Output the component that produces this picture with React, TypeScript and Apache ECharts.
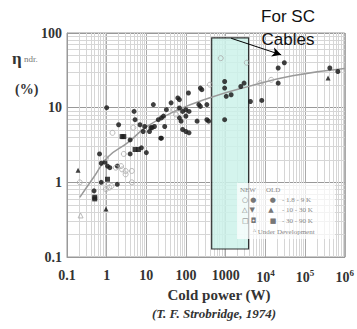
import React, { useEffect, useRef } from "react";
import * as echarts from "echarts";

// Fit curve (cold power W, efficiency %)
const fitCurve: number[][] = [
  [0.21, 0.63], [0.47, 1.17], [1.09, 2.2], [3.4, 3.4], [10.4, 5.6],
  [56, 9.1], [400, 13.6], [3430, 19], [48000, 26.7], [1000000, 33.5],
];

// Existing refrigerators (filled symbols)
const filledCircles: number[][] = [
  [1.0, 10], [4.9, 8.9], [15, 11], [5.2, 6.9], [6.9, 5.9], [9.1, 5.6], [13, 5.4], [16, 5.6],
  [2.0, 5.9], [3.9, 3.7], [8.3, 4.8], [12, 4.8], [23, 3.9], [7.5, 2.9], [3.9, 2.4],
  [10, 2.5], [0.66, 2.4], [0.73, 1.8], [1.05, 1.65], [1.85, 1.65], [0.73, 1.0],
  [1.85, 0.94], [0.48, 0.77], [0.91, 1.86], [1.2, 1.57],
  [42, 11.6], [62, 13.5], [68, 12.8], [115, 15.7], [230, 18.3], [250, 17.4], [210, 11],
  [230, 10.4], [335, 11], [32, 9.4], [20, 6.9], [24, 7.3], [27, 7.7], [68, 9.9], [82, 8.9],
  [99, 9.4], [119, 8.9], [14, 5.4], [29, 5.6], [68, 7.3], [75, 6.6], [99, 7.7], [335, 6.9],
  [370, 6.6], [190, 6.6], [82, 5.1], [99, 4.8], [119, 4.6], [24, 3.9], [940, 22.4],
  [940, 18.3], [1030, 14.2], [1370, 14.9], [2400, 19.2], [2900, 21.3], [940, 6.9],
  [4200, 12.1], [8100, 12.5], [30000, 40], [21000, 34], [21000, 21.3], [420000, 34], [670000, 30.5],
];
const filledSquares: number[][] = [
  [2.45, 4.1], [2.7, 4.1], [5.2, 2.75], [6.3, 2.75], [1.05, 1.1], [0.5, 0.63], [0.5, 0.6],
];
const filledTriangles: number[][] = [[0.96, 0.44], [0.19, 1.45], [380000, 25]];

// New / under development (open grey symbols)
const openPoints: number[][] = [
  [1.4, 4.6], [4.7, 5.4], [0.96, 2.1], [2.7, 2.4], [1.7, 1.57], [2.45, 1.49], [3.0, 1.42],
  [3.0, 1.28], [4.3, 1.42], [0.21, 1.0], [4.3, 1.0], [0.96, 0.81], [1.16, 0.85],
  [2.3, 1.65], [1.32, 0.89], [750, 46], [400, 20.3], [50, 9.4], [56, 8.1],
  [14000, 23.6], [7400, 21.3], [3400, 40],
];
const openTriangles: number[][] = [[0.22, 0.36]];

// SC cable band
const bandX: number[] = [443, 3770];
const bandY: number[] = [0.128, 86];
// Annotation arrow
const arrowFrom: number[] = [1370, 85];
const arrowTo: number[] = [25000, 51];

const minorMults = [2, 3, 4, 5, 6, 7, 8, 9];
const xDecades = [-1, 0, 1, 2, 3, 4, 5];
const yDecades = [-1, 0, 1];

const SERIF = "'Liberation Serif', 'DejaVu Serif', serif";

export default function App() {
  const ref = useRef<HTMLDivElement>(null);
  useEffect(() => {
    if (!ref.current) return;
    const chart = echarts.init(ref.current, undefined, { renderer: "svg" });
    const minorLines: any[] = [];
    xDecades.forEach((e) => minorMults.forEach((m) => minorLines.push({ xAxis: m * Math.pow(10, e) })));
    yDecades.forEach((e) => minorMults.forEach((m) => minorLines.push({ yAxis: m * Math.pow(10, e) })));

    const fmt = (v: number) => {
      const e = Math.round(Math.log10(v));
      if (e < 0) return "0.1";
      if (e >= 4) return "{b|10}{s|" + e + "}";
      return String(Math.round(v));
    };
    const labelBase = { fontFamily: SERIF, fontWeight: "bold" as const, fontSize: 14, color: "#333" };

    chart.setOption({
      animation: false,
      grid: { left: 67, right: 4, top: 33, bottom: 72, show: true, borderColor: "#999", borderWidth: 1 },
      xAxis: {
        type: "log", logBase: 10, min: 0.1, max: 1000000, splitNumber: 7,
        axisLine: { show: true, onZero: false, lineStyle: { color: "#999" } },
        axisTick: { show: false },
        splitLine: { show: true, lineStyle: { color: "#aaa", width: 1 } },
        axisLabel: {
          ...labelBase, margin: 11, formatter: fmt,
          rich: {
            b: { ...labelBase },
            s: { fontFamily: SERIF, fontSize: 9, color: "#333", padding: [0, 0, 10, 0] },
          },
        },
      },
      yAxis: {
        type: "log", logBase: 10, min: 0.1, max: 100, splitNumber: 3,
        axisLine: { show: true, onZero: false, lineStyle: { color: "#999" } },
        axisTick: { show: false },
        splitLine: { show: true, lineStyle: { color: "#999", width: 1 } },
        axisLabel: { ...labelBase, margin: 5, formatter: fmt },
      },
      series: [
        {
          type: "line", data: fitCurve, smooth: true, showSymbol: false, silent: true, z: 3,
          lineStyle: { color: "#9a9a9a", width: 1.5 },
          markLine: {
            silent: true, symbol: "none", z: 0, animation: false,
            label: { show: false },
            lineStyle: { color: "#d6d6d6", width: 1, type: "solid" },
            emphasis: { disabled: true },
            data: minorLines,
          },
        },
        {
          type: "scatter", data: filledCircles, symbol: "circle", symbolSize: 5, z: 4, silent: true,
          itemStyle: { color: "#1e1e1e", opacity: 0.85 },
          markArea: {
            silent: true, z: 1,
            itemStyle: { color: "#cdf2ea", opacity: 0.85, borderColor: "#111", borderWidth: 1.2 },
            label: { show: false },
            data: [[{ coord: [bandX[0], bandY[1]] }, { coord: [bandX[1], bandY[0]] }]],
          },
        },
        {
          type: "scatter", data: filledSquares, symbol: "rect", symbolSize: 5, z: 4, silent: true,
          itemStyle: { color: "#1e1e1e", opacity: 0.85 },
        },
        {
          type: "scatter", data: filledTriangles, symbol: "triangle", symbolSize: 5, z: 4, silent: true,
          itemStyle: { color: "#1e1e1e", opacity: 0.85 },
        },
        {
          type: "scatter", data: openPoints, symbol: "circle", symbolSize: 5, z: 4, silent: true,
          itemStyle: { color: "rgba(255,255,255,0)", borderColor: "#aaa", borderWidth: 1 },
          markLine: {
            silent: true, symbol: ["none", "arrow"], symbolSize: [7, 9], z: 6,
            label: { show: false },
            lineStyle: { color: "#000", width: 1, type: "solid" },
            data: [[{ coord: arrowFrom }, { coord: arrowTo }]],
          },
        },
        {
          type: "scatter", data: openTriangles, symbol: "triangle", symbolSize: 5, z: 4, silent: true,
          itemStyle: { color: "rgba(255,255,255,0)", borderColor: "#aaa", borderWidth: 1 },
        },
      ],
      graphic: [
        {
          type: "text", left: 12, top: 50, z: 10,
          style: {
            text: "{e|η}{n| ndr.}",
            rich: {
              e: { fontFamily: SERIF, fontSize: 17, fontWeight: "bold", fill: "#333" },
              n: { fontFamily: SERIF, fontSize: 9, fill: "#777" },
            },
          },
        },
        { type: "text", left: 15, top: 82, z: 10, style: { text: "(%)", font: "bold 14px " + SERIF, fill: "#333" } },
        {
          type: "text", x: 288, y: 5, z: 10,
          style: { text: "For SC\nCables", font: "17px 'Liberation Sans', Arial, sans-serif", fill: "#111", align: "center", lineHeight: 23 },
        },
        {
          type: "text", x: 219, y: 295, z: 10,
          style: { text: "Cold power (W)", font: "bold 15px " + SERIF, fill: "#333", align: "center", verticalAlign: "middle" },
        },
        {
          type: "text", x: 214, y: 313, z: 10,
          style: { text: "(T. F. Strobridge, 1974)", font: "italic bold 13px " + SERIF, fill: "#333", align: "center", verticalAlign: "middle" },
        },
        { type: "rect", shape: { x: 237, y: 183, width: 98, height: 56 }, z: 7, style: { fill: "rgba(255,255,255,0.7)" } },
        { type: "text", x: 240, y: 190, z: 8, style: { text: "NEW", font: "7px " + SERIF, fill: "#888", verticalAlign: "middle" } },
        { type: "text", x: 266, y: 190, z: 8, style: { text: "OLD", font: "7px " + SERIF, fill: "#888", verticalAlign: "middle" } },
        { type: "text", x: 242, y: 200, z: 8, style: { text: "○ ●      ●", font: "7px 'DejaVu Sans'", fill: "#777", verticalAlign: "middle" } },
        { type: "text", x: 242, y: 210, z: 8, style: { text: "△ ▼      ▲", font: "7px 'DejaVu Sans'", fill: "#777", verticalAlign: "middle" } },
        { type: "text", x: 242, y: 221, z: 8, style: { text: "□ ◘      ■", font: "7px 'DejaVu Sans'", fill: "#777", verticalAlign: "middle" } },
        { type: "text", x: 282, y: 200, z: 8, style: { text: "- 1.8 - 9 K", font: "7px " + SERIF, fill: "#888", verticalAlign: "middle" } },
        { type: "text", x: 282, y: 210, z: 8, style: { text: "- 10 - 30 K", font: "7px " + SERIF, fill: "#888", verticalAlign: "middle" } },
        { type: "text", x: 282, y: 221, z: 8, style: { text: "- 30 - 90 K", font: "7px " + SERIF, fill: "#888", verticalAlign: "middle" } },
        { type: "text", x: 253, y: 232, z: 8, style: { text: "ᴬ Under Development", font: "7px " + SERIF, fill: "#888", verticalAlign: "middle" } },
      ],
    });
    return () => chart.dispose();
  }, []);
  return <div ref={ref} style={{ width: 357, height: 329, position: "absolute", left: 0, top: 0 }} />;
}
